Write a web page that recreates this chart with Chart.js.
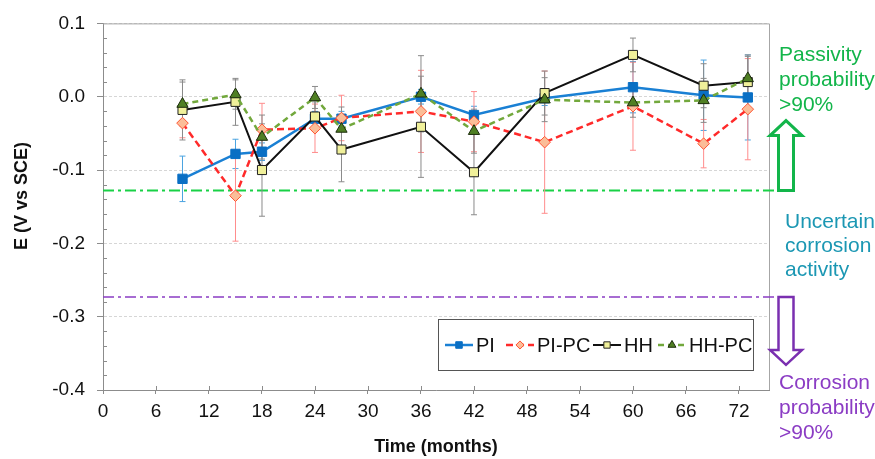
<!DOCTYPE html>
<html>
<head>
<meta charset="utf-8">
<script src="https://cdn.jsdelivr.net/npm/chart.js@4/dist/chart.umd.min.js"></script>
<style>
  html, body { margin: 0; padding: 0; background: #fff; }
  #wrap { width: 875px; height: 459px; }
</style>
</head>
<body>
<div id="wrap"><canvas id="chart" width="875" height="459"></canvas></div>
<script>
// sampling times (months)
var months = [9, 15, 18, 24, 27, 36, 42, 50, 60, 68, 73];

// corrosion potential, V vs SCE
var piValues   = [-0.112, -0.078, -0.075, -0.030, -0.030, 0.000, -0.025, -0.002, 0.013, 0.002, -0.001];
var pipcValues = [-0.036, -0.135, -0.045, -0.043, -0.029, -0.020, -0.034, -0.062, -0.013, -0.064, -0.017];
var hhValues   = [-0.018, -0.007, -0.100, -0.027, -0.072, -0.041, -0.103, 0.005, 0.057, 0.015, 0.020];
var hhpcValues = [-0.010, 0.003, -0.055, -0.001, -0.044, 0.004, -0.047, -0.004, -0.008, -0.005, 0.025];

// error bars (+/-)
var piErr   = [0.031, 0.020, 0.012, 0.010, 0.010, 0.010, 0.012, 0.010, 0.035, 0.048, 0.058];
var pipcErr = [0.020, 0.062, 0.036, 0.033, 0.031, 0.056, 0.041, 0.097, 0.060, 0.033, 0.069];
var hhErr   = [0.041, 0.032, 0.063, 0.020, 0.044, 0.069, 0.058, 0.030, 0.023, 0.030, 0.037];
var hhpcErr = [0.030, 0.020, 0.030, 0.015, 0.030, 0.052, 0.030, 0.030, 0.020, 0.030, 0.030];

var seriesNames = ['PI', 'PI-PC', 'HH', 'HH-PC'];
var xTicks = [0, 6, 12, 18, 24, 30, 36, 42, 48, 54, 60, 66, 72];
var yTicks = [0.1, 0.0, -0.1, -0.2, -0.3, -0.4];

// ASTM-type thresholds
var passiveLimit = -0.128;
var corrosionLimit = -0.273;

var FONT = '"Liberation Sans", Arial, sans-serif';

function isMajor(v) {
  return yTicks.some(function(t) { return Math.abs(t - v) < 1e-6; });
}

function points(vals) {
  return months.map(function(m, i) { return {x: m, y: vals[i]}; });
}

var errSets = [piErr, pipcErr, hhErr, hhpcErr];
var errColors = ['#4aa3e0', '#ff8c8c', '#8a8a8a', '#8a8a8a'];

/* error bars + threshold lines + plot frame */
var underlay = {
  id: 'underlay',
  beforeDatasetsDraw: function(chart) {
    var ctx = chart.ctx, xs = chart.scales.x, ys = chart.scales.y, a = chart.chartArea;
    ctx.save();

    // frame top/right
    ctx.strokeStyle = '#a6a6a6';
    ctx.lineWidth = 1;
    ctx.beginPath();
    ctx.moveTo(a.left, a.top + 0.5);
    ctx.lineTo(a.right + 0.5, a.top + 0.5);
    ctx.lineTo(a.right + 0.5, a.bottom);
    ctx.stroke();

    // inner tick marks (minor on y, crossing part on x)
    ctx.strokeStyle = '#8c8c8c';
    ctx.beginPath();
    ys.ticks.forEach(function(t) {
      if (isMajor(t.value)) return;
      var y = Math.round(ys.getPixelForValue(t.value)) + 0.5;
      ctx.moveTo(a.left, y); ctx.lineTo(a.left + 4, y);
    });
    xs.ticks.forEach(function(t) {
      var x = Math.round(xs.getPixelForValue(t.value)) + 0.5;
      ctx.moveTo(x, a.bottom); ctx.lineTo(x, a.bottom - 4);
    });
    ctx.stroke();

    // threshold dash-dot lines
    var lines = [[passiveLimit, '#19d146', 2], [corrosionLimit, '#8b3cc4', 1.5]];
    lines.forEach(function(l) {
      var y = ys.getPixelForValue(l[0]);
      ctx.strokeStyle = l[1];
      ctx.lineWidth = l[2];
      ctx.setLineDash([11, 4, 3, 4]);
      ctx.beginPath();
      ctx.moveTo(a.left, y);
      ctx.lineTo(779, y);
      ctx.stroke();
    });
    ctx.setLineDash([]);

    // error bars
    ctx.lineWidth = 1;
    errSets.forEach(function(errs, d) {
      var vals = chart.data.datasets[d].data;
      ctx.strokeStyle = errColors[d];
      vals.forEach(function(p, i) {
        var x = xs.getPixelForValue(p.x);
        var y1 = ys.getPixelForValue(p.y + errs[i]);
        var y2 = ys.getPixelForValue(p.y - errs[i]);
        ctx.beginPath();
        ctx.moveTo(x, y1); ctx.lineTo(x, y2);
        ctx.moveTo(x - 3, y1); ctx.lineTo(x + 3, y1);
        ctx.moveTo(x - 3, y2); ctx.lineTo(x + 3, y2);
        ctx.stroke();
      });
    });
    ctx.restore();
  }
};

function arrow(ctx, cx, yBase, yTip, color, lw) {
  var dir = yTip < yBase ? -1 : 1;
  var head = 15, hw = 16, sw = 7.5;
  var yHead = yTip - dir * head;
  ctx.strokeStyle = color;
  ctx.lineWidth = lw;
  ctx.lineJoin = 'miter';
  ctx.beginPath();
  ctx.moveTo(cx - sw, yBase);
  ctx.lineTo(cx - sw, yHead);
  ctx.lineTo(cx - hw, yHead);
  ctx.lineTo(cx, yTip);
  ctx.lineTo(cx + hw, yHead);
  ctx.lineTo(cx + sw, yHead);
  ctx.lineTo(cx + sw, yBase);
  ctx.closePath();
  ctx.fillStyle = '#fff';
  ctx.fill();
  ctx.stroke();
}

/* legend box, y title and side notes */
var overlay = {
  id: 'overlay',
  afterDatasetsDraw: function(chart) {
    var ctx = chart.ctx, ys = chart.scales.y;
    ctx.save();

    // y axis title
    ctx.save();
    ctx.translate(22, 196);
    ctx.rotate(-Math.PI / 2);
    ctx.fillStyle = '#111';
    ctx.font = 'bold 18px ' + FONT;
    ctx.textAlign = 'center';
    ctx.textBaseline = 'middle';
    ctx.fillText('E (V vs SCE)', 0, 0);
    ctx.restore();

    // legend
    ctx.fillStyle = '#fff';
    ctx.fillRect(438, 319, 315, 51);
    ctx.strokeStyle = '#555';
    ctx.lineWidth = 1;
    ctx.strokeRect(438.5, 319.5, 315, 51);
    var lx = [445, 506, 593, 658];
    var ly = 345;
    chart.data.datasets.forEach(function(ds, i) {
      var x = lx[i];
      ctx.strokeStyle = ds.borderColor;
      ctx.lineWidth = ds.borderWidth;
      ctx.setLineDash(ds.borderDash || []);
      ctx.beginPath();
      ctx.moveTo(x, ly); ctx.lineTo(x + 28, ly);
      ctx.stroke();
      ctx.setLineDash([]);
      ctx.fillStyle = ds.pointBackgroundColor;
      ctx.strokeStyle = ds.pointBorderColor;
      ctx.lineWidth = 1;
      Chart.helpers.drawPoint(ctx, {pointStyle: ds.pointStyle, rotation: 0, radius: ds.pointRadius * 0.7, borderWidth: 1}, x + 14, ly);
      ctx.fillStyle = '#111';
      ctx.font = '20px ' + FONT;
      ctx.textAlign = 'left';
      ctx.textBaseline = 'middle';
      ctx.fillText(ds.label, x + 31, ly + 1);
    });

    // arrows
    var yP = ys.getPixelForValue(passiveLimit);
    var yC = ys.getPixelForValue(corrosionLimit);
    arrow(ctx, 786, yP, yP - 70, '#12b54a', 3);
    arrow(ctx, 786, yC, yC + 68, '#7a2fb0', 2.5);

    // notes
    ctx.font = '21px ' + FONT;
    ctx.textAlign = 'left';
    ctx.textBaseline = 'middle';
    ctx.fillStyle = '#12b54a';
    ['Passivity', 'probability', '>90%'].forEach(function(t, i) { ctx.fillText(t, 779, 55 + i * 25); });
    ctx.fillStyle = '#1b97b3';
    ['Uncertain', 'corrosion', 'activity'].forEach(function(t, i) { ctx.fillText(t, 785, 222 + i * 24); });
    ctx.fillStyle = '#8b3cc4';
    ['Corrosion', 'probability', '>90%'].forEach(function(t, i) { ctx.fillText(t, 779, 383 + i * 25); });
    ctx.restore();
  }
};

function makeSet(label, vals, line, dash, width, style, radius, fill, edge, order) {
  return {
    label: label,
    data: points(vals),
    borderColor: line,
    borderWidth: width,
    borderDash: dash,
    pointStyle: style,
    pointRadius: radius,
    pointHoverRadius: radius,
    pointBackgroundColor: fill,
    pointBorderColor: edge,
    pointBorderWidth: 1,
    tension: 0,
    fill: false,
    order: order
  };
}

new Chart(document.getElementById('chart'), {
  type: 'line',
  data: {
    datasets: [
      makeSet(seriesNames[0], piValues, '#1a80d4', [], 2.5, 'rect', 6.6, '#0a6fc4', '#0a6fc4', 4),
      makeSet(seriesNames[1], pipcValues, '#ff2a2a', [7, 4], 2.5, 'rectRot', 5.8, '#fbbd98', '#ff5533', 3),
      makeSet(seriesNames[2], hhValues, '#111111', [], 2, 'rect', 6.4, '#f0f09a', '#222222', 2),
      makeSet(seriesNames[3], hhpcValues, '#72a83c', [6, 4], 2.5, 'triangle', 6.5, '#4f7f23', '#1c2c0c', 1)
    ]
  },
  options: {
    responsive: false,
    animation: false,
    devicePixelRatio: 1,
    layout: { padding: { left: 0, top: 22, right: 106, bottom: 0 } },
    plugins: { legend: { display: false }, tooltip: { enabled: false } },
    scales: {
      x: {
        type: 'linear',
        min: 0,
        max: 75.4,
        afterBuildTicks: function(s) { s.ticks = xTicks.map(function(v) { return {value: v}; }); },
        afterFit: function(s) { s.height = 69; },
        ticks: {
          autoSkip: false, maxRotation: 0, padding: 6, color: '#111',
          font: { family: '"Liberation Sans Narrow", "Arial Narrow", ' + FONT, size: 19 }
        },
        grid: { drawOnChartArea: false, tickLength: 4, tickColor: '#8c8c8c' },
        border: { color: '#8c8c8c', width: 1 },
        title: {
          display: true, text: 'Time (months)', color: '#111',
          font: { family: FONT, size: 18, weight: 'bold' },
          padding: { top: 0, bottom: 1 }
        }
      },
      y: {
        min: -0.4,
        max: 0.1,
        afterFit: function(s) { s.width = 103; },
        ticks: {
          stepSize: 0.02, autoSkip: false, padding: 12, color: '#111',
          font: { family: FONT, size: 19 },
          callback: function(v) { return isMajor(v) ? v.toFixed(1) : ''; }
        },
        grid: {
          color: function(c) { return (c.tick && isMajor(c.tick.value)) ? '#d6d6d6' : 'rgba(0,0,0,0)'; },
          tickLength: 6,
          tickColor: function(c) { return (c.tick && isMajor(c.tick.value)) ? '#8c8c8c' : 'rgba(0,0,0,0)'; }
        },
        border: { color: '#8c8c8c', width: 1, dash: [3, 2] },
        title: { display: false }
      }
    }
  },
  plugins: [underlay, overlay]
});
</script>
</body>
</html>
